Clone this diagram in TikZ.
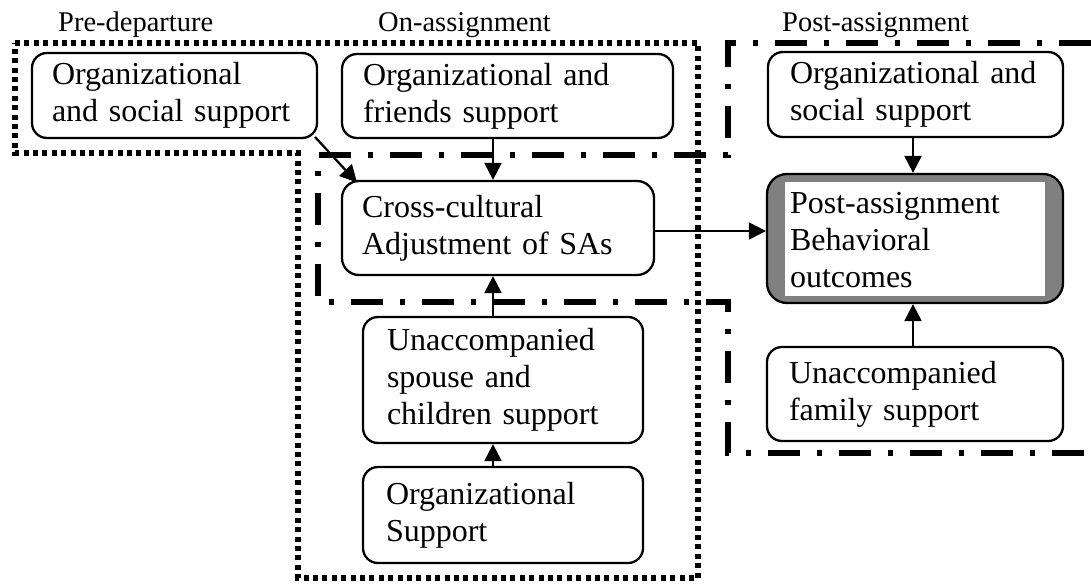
\documentclass[tikz,border=0pt]{standalone}
\usepackage{fontspec}
\setmainfont{Liberation Serif}
\usetikzlibrary{arrows.meta}
\begin{document}
\begin{tikzpicture}[x=1pt,y=-1pt,
  box/.style={draw, line width=2.3pt, rounded corners=15pt, fill=white, align=left,
    inner xsep=0pt, inner ysep=0pt, font=\fontsize{32}{37}\selectfont},
  behavbox/.style={draw, line width=2.3pt, rounded corners=20pt, fill=black!50, inner sep=0pt},
  txt/.style={align=left, inner sep=0pt, font=\fontsize{32}{37}\selectfont},
  phase/.style={anchor=base west, inner sep=0pt, font=\fontsize{28.5}{32}\selectfont},
  arr/.style={line width=2.3pt, -{Triangle[length=17pt,width=17pt]}},
  dotbound/.style={line width=5.5pt, dash pattern=on 5pt off 4.4pt},
  dashdotbound/.style={line width=6.5pt, dash pattern=on 32pt off 17pt on 5pt off 17pt}
]
\useasboundingbox (0,0) rectangle (1091,583);

% phase labels
\node[phase] (lpre) at (58,32) {Pre-departure};
\node[phase] (lon) at (378,32) {On-assignment};
\node[phase] (lpost) at (782,32) {Post-assignment};

% boundaries
\draw[dotbound] (15,43) -- (698,43) -- (698,578) -- (298,578) -- (298,153) -- (15,153) -- cycle;
\draw[dashdotbound] (1091,43) -- (728,43) -- (728,155) -- (318,155) -- (318,302) -- (728,302) -- (728,453) -- (1091,453);

% boxes
\node[box, minimum width=285pt, minimum height=85pt, text width=245pt] (pre) at (174.5,95.5)
  {Organizational\\and social support};
\node[box, minimum width=331pt, minimum height=84pt, text width=289pt] (onorg) at (507.5,96)
  {Organizational and\\friends support};
\node[box, rounded corners=17pt, minimum width=312pt, minimum height=94pt, text width=272pt] (cross) at (498,228)
  {Cross-cultural\\Adjustment of SAs};
\node[box, minimum width=280pt, minimum height=126pt, text width=232pt] (spouse) at (503,380)
  {Unaccompanied\\spouse and\\children support};
\node[box, minimum width=280pt, minimum height=96pt, text width=234pt] (orgsup) at (503,515)
  {Organizational\\Support};
\node[box, minimum width=295pt, minimum height=85pt, text width=251pt] (postorg) at (915.5,94.5)
  {Organizational and\\social support};
\node[behavbox, minimum width=296pt, minimum height=129pt] (behav) at (915,238.5) {};
\fill[white] ([shift={(19,9)}]behav.north west) rectangle ([shift={(-19,-8)}]behav.south east);
\node[txt, text width=250pt] (behavtxt) at (915,240) {Post-assignment\\Behavioral\\outcomes};
\node[box, minimum width=296pt, minimum height=94pt, text width=252pt] (family) at (915,394)
  {Unaccompanied\\family support};

% connectors
\coordinate (colA) at (493,0);
\coordinate (colB) at (913,0);
\draw[arr] (315,137) -- (357,182.5);
\draw[arr] (colA |- onorg.south) -- (colA |- cross.north);
\draw[arr] (colA |- spouse.north) -- (colA |- cross.south);
\draw[arr] (colA |- orgsup.north) -- (colA |- spouse.south);
\draw[arr] (cross.east |- 0,231) -- (behav.west |- 0,231);
\draw[arr] (colB |- postorg.south) -- (colB |- behav.north);
\draw[arr] (colB |- family.north) -- (colB |- behav.south);
\end{tikzpicture}
\end{document}
